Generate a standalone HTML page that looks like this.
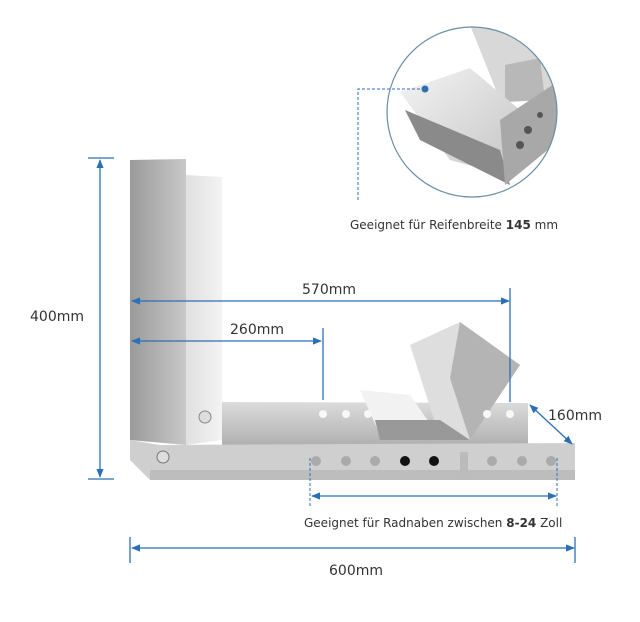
<!DOCTYPE html>
<html><head><meta charset="utf-8"><style>
html,body{margin:0;padding:0;background:#fff;}
svg{display:block;font-family:"DejaVu Sans","Liberation Sans",sans-serif;}
</style></head><body>
<svg width="640" height="622" viewBox="0 0 640 622">
<defs>
<marker id="a" viewBox="0 0 10 10" refX="9" refY="5" markerWidth="7" markerHeight="7" orient="auto-start-reverse"><path d="M0,1 L10,5 L0,9 z" fill="#2b6fb6"/></marker>
<linearGradient id="g1" x1="0" x2="1"><stop offset="0" stop-color="#9a9a9a"/><stop offset="1" stop-color="#c8c8c8"/></linearGradient>
<linearGradient id="g4" x1="0" x2="1"><stop offset="0" stop-color="#e0e0e0"/><stop offset="1" stop-color="#f3f3f3"/></linearGradient>
<linearGradient id="g2" x1="0" y1="0" x2="0" y2="1"><stop offset="0" stop-color="#dcdcdc"/><stop offset="1" stop-color="#b0b0b0"/></linearGradient>
<linearGradient id="g3" x1="0" y1="0" x2="1" y2="1"><stop offset="0" stop-color="#f4f4f4"/><stop offset="1" stop-color="#c4c4c4"/></linearGradient>
<clipPath id="cc"><circle cx="472" cy="112" r="85"/></clipPath>
</defs>
<g clip-path="url(#cc)">
<rect x="380" y="20" width="190" height="190" fill="#fff"/>
<polygon points="470,25 540,20 560,90 500,100" fill="#d8d8d8"/>
<polygon points="505,65 540,58 545,100 505,102" fill="#b8b8b8"/>
<polygon points="400,92 470,68 520,110 505,175 450,160" fill="url(#g3)"/>
<polygon points="405,110 500,150 510,185 420,140" fill="#8a8a8a"/>
<polygon points="500,120 560,80 560,140 505,185" fill="#a8a8a8"/>
<circle cx="520" cy="145" r="4" fill="#555"/><circle cx="528" cy="130" r="4" fill="#555"/><circle cx="540" cy="115" r="3" fill="#555"/>
</g>
<circle cx="472" cy="112" r="85" fill="none" stroke="#6a8fa8" stroke-width="1.2"/>
<path d="M358,200 V89 H425" fill="none" stroke="#2b6fb6" stroke-dasharray="3,2"/>
<circle cx="425" cy="89" r="3.5" fill="#2b6fb6"/>
<text x="350" y="229" font-size="12" fill="#333">Geeignet für Reifenbreite <tspan font-weight="bold">145</tspan> mm</text>
<polygon points="130,160 186,159 186,445 130,440" fill="url(#g1)"/>
<polygon points="186,175 222,177 222,440 186,445" fill="url(#g4)"/>
<polygon points="222,402 528,403 528,445 222,445" fill="url(#g2)"/>
<polygon points="130,440 160,445 575,443 575,480 150,480 130,460" fill="#cfcfcf"/>
<polygon points="150,470 575,470 575,480 150,480" fill="#bdbdbd"/>
<polygon points="360,390 410,395 440,438 380,435" fill="#f2f2f2"/>
<polygon points="410,345 460,322 520,365 470,440 440,438" fill="#dedede"/>
<polygon points="460,322 520,365 470,440 450,378" fill="#b4b4b4"/>
<polygon points="375,420 440,420 470,440 380,440" fill="#999"/>
<g fill="#f8f8f8"><circle cx="323" cy="414" r="4"/><circle cx="346" cy="414" r="4"/><circle cx="368" cy="414" r="4"/><circle cx="487" cy="414" r="4"/><circle cx="510" cy="414" r="4"/></g>
<g fill="#aaa"><circle cx="316" cy="461" r="5"/><circle cx="346" cy="461" r="5"/><circle cx="375" cy="461" r="5"/><circle cx="492" cy="461" r="5"/><circle cx="522" cy="461" r="5"/><circle cx="551" cy="461" r="5"/></g>
<circle cx="405" cy="461" r="5" fill="#111"/><circle cx="434" cy="461" r="5" fill="#111"/>
<circle cx="205" cy="417" r="6" fill="#ddd" stroke="#888"/>
<circle cx="163" cy="457" r="6" fill="#ddd" stroke="#777"/>
<rect x="460" y="452" width="8" height="22" fill="#bbb"/>
<g stroke="#2b6fb6" stroke-width="1.3" fill="none">
<line x1="100" y1="160" x2="100" y2="477" marker-start="url(#a)" marker-end="url(#a)"/>
<line x1="88" y1="158" x2="114" y2="158"/><line x1="88" y1="479" x2="114" y2="479"/>
<line x1="132" y1="301" x2="509" y2="301" marker-start="url(#a)" marker-end="url(#a)"/>
<line x1="510" y1="288" x2="510" y2="402"/>
<line x1="132" y1="341" x2="321" y2="341" marker-start="url(#a)" marker-end="url(#a)"/>
<line x1="323" y1="328" x2="323" y2="400"/>
<line x1="530" y1="405" x2="572" y2="444" marker-start="url(#a)" marker-end="url(#a)"/>
<line x1="132" y1="548" x2="574" y2="548" marker-start="url(#a)" marker-end="url(#a)"/>
<line x1="130" y1="537" x2="130" y2="563"/><line x1="575" y1="537" x2="575" y2="563"/>
<line x1="312" y1="496" x2="556" y2="496" marker-start="url(#a)" marker-end="url(#a)"/>
</g>
<g stroke="#2b6fb6" stroke-dasharray="3,2"><line x1="310" y1="458" x2="310" y2="506"/><line x1="557" y1="458" x2="557" y2="506"/></g>
<g fill="#333" font-size="14">
<text x="30" y="321">400mm</text>
<text x="302" y="294">570mm</text>
<text x="230" y="334">260mm</text>
<text x="548" y="420">160mm</text>
<text x="329" y="575">600mm</text>
</g>
<text x="304" y="527" font-size="12" fill="#333">Geeignet für Radnaben zwischen <tspan font-weight="bold">8-24</tspan> Zoll</text>
</svg>
</body></html>
